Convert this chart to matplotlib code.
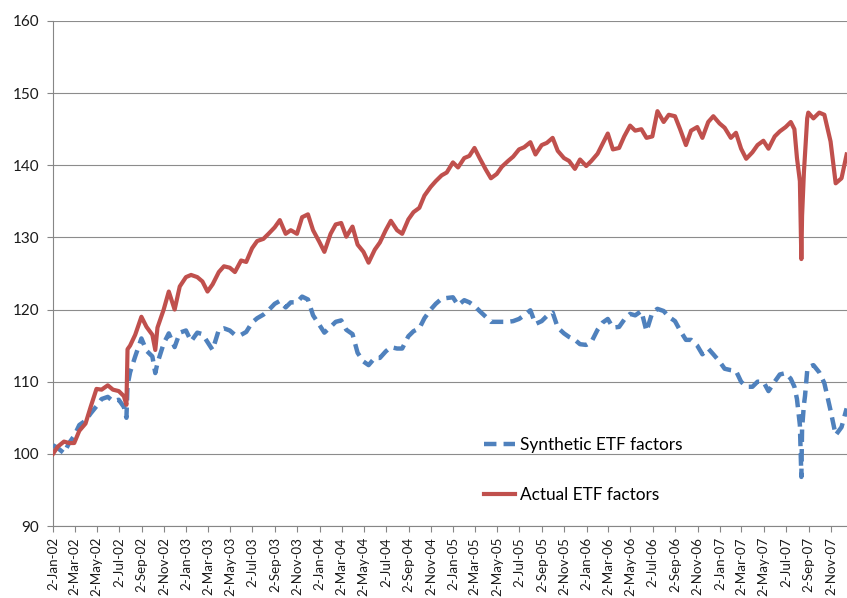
import pandas as pd
import numpy as np
import matplotlib
matplotlib.use('Agg')
import matplotlib.pyplot as plt
import matplotlib.dates as mdates
from matplotlib.ticker import FuncFormatter, MultipleLocator

plt.rcParams['font.family'] = ['Lato', 'DejaVu Sans']

actual_2002 = [100.0, 101.0, 101.7, 101.5, 101.5, 103.2, 104.2, 106.5, 109.0, 108.9, 109.5, 108.9,
               108.7, 108.0, 115.0, 116.5, 119.0, 117.6, 116.5, 117.5, 120.0, 122.5, 120.0, 123.2]
actual_2003 = [124.5, 124.8, 124.5, 123.9, 122.5, 123.5, 125.2, 126.0, 125.8, 125.2, 126.8, 126.6,
               128.5, 129.5, 129.8, 130.5, 131.4, 132.4, 130.5, 131.0, 130.5, 132.8, 133.2, 131.0]
actual_2004 = [129.4, 128.0, 130.5, 131.8, 132.0, 130.1, 131.5, 129.0, 128.0, 126.5, 128.3, 129.3,
               131.0, 132.3, 131.0, 130.5, 132.5, 133.5, 134.1, 135.8, 137.0, 137.8, 138.6, 139.0]
actual_2005 = [140.4, 139.7, 141.0, 141.3, 142.4, 141.0, 139.4, 138.2, 138.8, 139.8, 140.6, 141.2,
               142.2, 142.5, 143.2, 141.5, 142.8, 143.1, 143.8, 142.0, 141.0, 140.6, 139.5, 140.8]
actual_2006 = [139.9, 140.6, 141.6, 143.0, 144.4, 142.2, 142.4, 144.0, 145.5, 144.8, 145.0, 143.8,
               144.0, 147.5, 146.0, 147.0, 146.8, 145.0, 142.8, 144.8, 145.3, 143.8, 146.0, 146.8]
actual_2007 = [145.8, 145.2, 143.8, 144.5, 142.3, 140.9, 141.8, 142.8, 143.4, 142.3, 144.0, 144.7,
               145.3, 146.0, 141.0, 133.0, 147.3, 146.5, 147.3, 147.0, 143.3, 137.5, 138.2, 141.5]

synthetic_2002 = [101.2, 100.8, 100.1, 101.5, 102.5, 104.0, 104.6, 105.6, 106.6, 107.6, 107.9, 107.3,
                  107.5, 106.5, 111.3, 113.5, 116.0, 114.3, 113.5, 112.6, 115.3, 116.7, 114.8, 116.8]
synthetic_2003 = [117.1, 115.6, 116.8, 116.6, 115.5, 114.4, 117.2, 117.4, 117.1, 116.5, 116.5, 116.9,
                  118.2, 118.8, 119.3, 119.9, 120.8, 121.2, 120.3, 121.0, 121.0, 121.8, 121.4, 119.2]
synthetic_2004 = [117.9, 116.8, 117.6, 118.3, 118.5, 117.2, 116.6, 114.0, 112.8, 112.3, 113.3, 113.3,
                  114.2, 114.8, 114.6, 114.6, 116.3, 117.0, 117.4, 118.8, 120.0, 120.8, 121.5, 121.6]
synthetic_2005 = [121.7, 120.6, 121.3, 121.0, 120.5, 119.8, 119.0, 118.3, 118.3, 118.3, 118.3, 118.4,
                  118.7, 119.2, 119.9, 118.0, 118.4, 119.1, 119.6, 117.5, 116.7, 116.2, 115.8, 115.2]
synthetic_2006 = [115.1, 115.5, 117.2, 118.2, 118.7, 117.5, 117.6, 118.6, 119.4, 119.2, 119.8, 117.0,
                  119.6, 120.1, 119.8, 119.0, 118.4, 117.1, 115.8, 115.8, 115.0, 113.8, 114.6, 113.8]
synthetic_2007 = [112.8, 111.8, 111.6, 111.5, 110.0, 109.3, 109.3, 110.0, 110.0, 108.7, 110.0, 111.0,
                  111.2, 110.4, 107.6, 103.5, 112.0, 112.3, 111.3, 109.8, 106.0, 102.6, 103.7, 106.3]

# extra points around the sharp moves (Jul 2002, Oct 2002, Aug 2007)
extra_dates = ['2002-07-22', '2002-07-25', '2002-10-09', '2007-07-25', '2007-08-09',
               '2007-08-13', '2007-08-20', '2007-08-23', '2007-08-29']
extra_actual = [106.8, 114.5, 114.4, 145.0, 137.8, 127.0, 139.0, 141.5, 146.5]
extra_synthetic = [105.0, 109.5, 111.2, 109.3, 104.0, 96.8, 106.8, 108.0, 111.5]

base = pd.DataFrame({
    'date': pd.date_range('2002-01-01', '2007-12-15', freq='SMS'),
    'actual': actual_2002 + actual_2003 + actual_2004 + actual_2005 + actual_2006 + actual_2007,
    'synthetic': synthetic_2002 + synthetic_2003 + synthetic_2004 + synthetic_2005 + synthetic_2006 + synthetic_2007,
})
extra = pd.DataFrame({'date': pd.to_datetime(extra_dates), 'actual': extra_actual,
                      'synthetic': extra_synthetic})
df = pd.concat([base, extra]).sort_values('date').reset_index(drop=True)
df.loc[0, 'date'] = pd.Timestamp('2002-01-02')

fig = plt.figure(figsize=(8.47, 5.98), dpi=100)
ax = fig.add_axes([0.0626, 0.1204, 0.9374, 0.8445])

blue = '#4F81BD'
red = '#C0504D'
ax.plot(df['date'], df['synthetic'], color=blue, lw=3.2, linestyle=(0, (2.8, 1.6)),
        label='Synthetic ETF factors', zorder=3)
ax.plot(df['date'], df['actual'], color=red, lw=3.0, label='Actual ETF factors',
        solid_joinstyle='round', zorder=4)

ax.set_ylim(90, 160)
ax.yaxis.set_major_locator(MultipleLocator(10))
ax.set_xlim(pd.Timestamp('2002-01-02'), pd.Timestamp('2007-12-16'))
ax.xaxis.set_major_locator(mdates.MonthLocator(bymonth=[1, 3, 5, 7, 9, 11], bymonthday=2))
ax.xaxis.set_major_formatter(FuncFormatter(
    lambda v, pos: '{}-{}'.format(mdates.num2date(v).day, mdates.num2date(v).strftime('%b-%y'))))

ax.grid(axis='y', color='#8C8C8C', lw=0.8)
ax.set_axisbelow(True)
for s in ['top', 'right']:
    ax.spines[s].set_visible(False)
for s in ['left', 'bottom']:
    ax.spines[s].set_color('#868686')
    ax.spines[s].set_linewidth(0.8)

ax.tick_params(axis='both', colors='#868686', length=4, width=0.8, labelcolor='#1a1a1a')
ax.tick_params(axis='y', labelsize=11, pad=6)
ax.tick_params(axis='x', labelsize=9.6, labelrotation=90, pad=4)

ax.legend(loc='center left', bbox_to_anchor=(0.543, 0.111), frameon=False, fontsize=12.4,
          handlelength=1.8, handletextpad=0.3, labelspacing=2.0, borderpad=0, borderaxespad=0)

fig.savefig('out.png', dpi=100, facecolor='white')
